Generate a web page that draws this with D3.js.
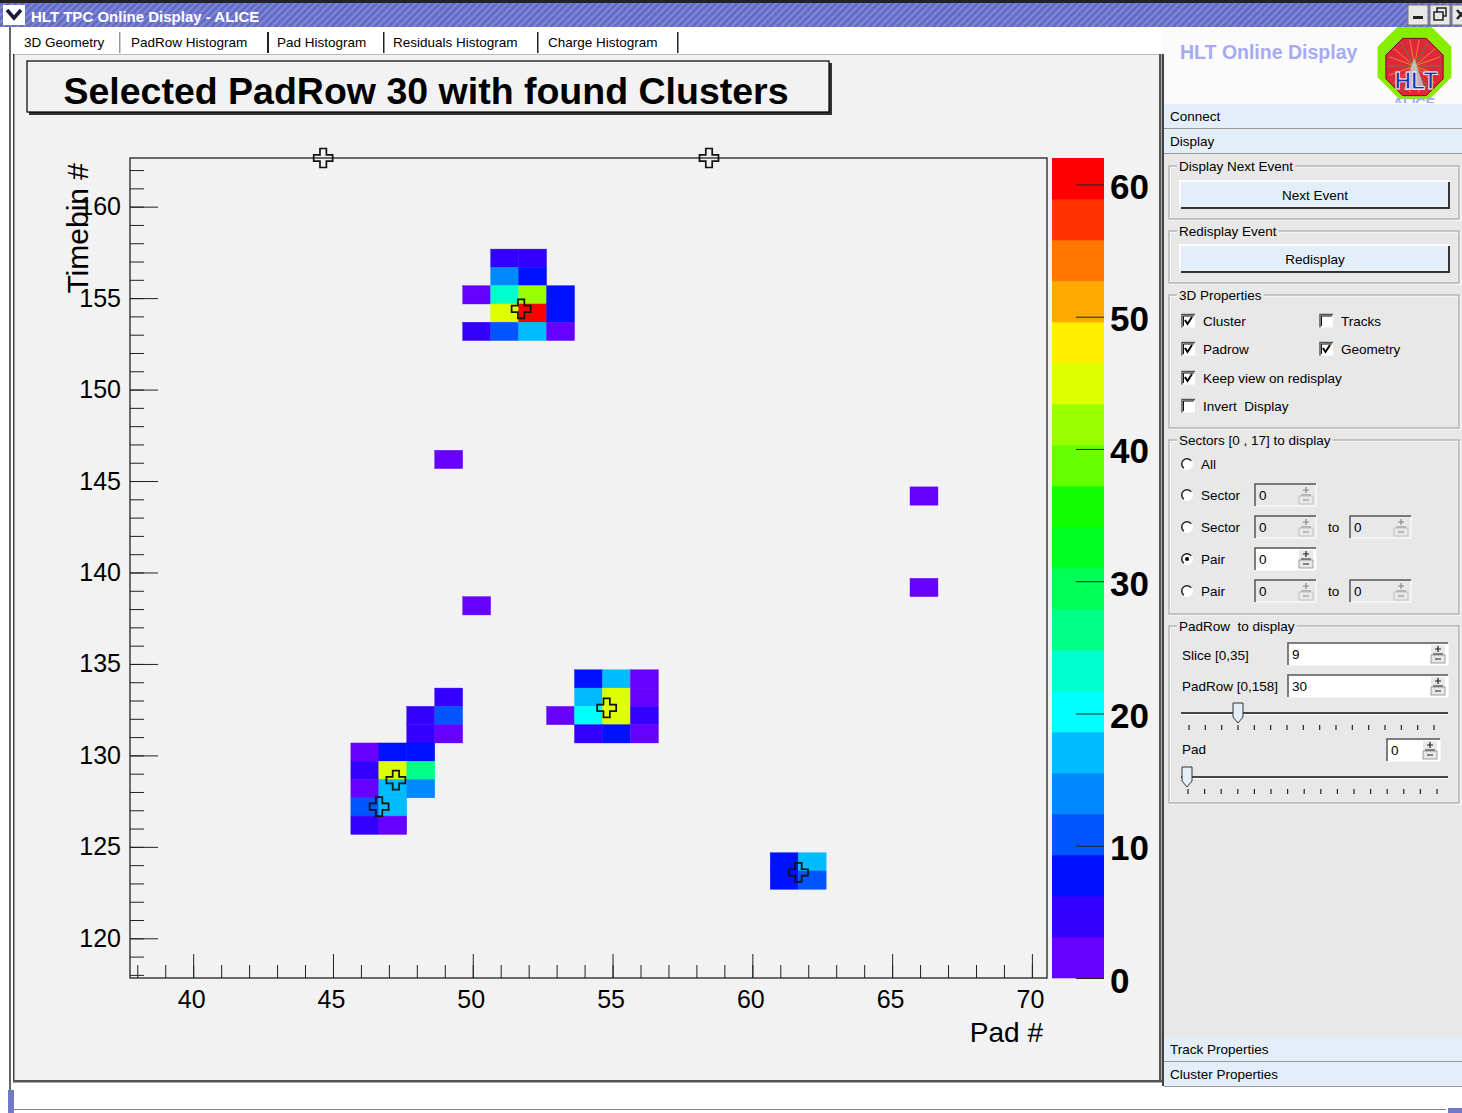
<!DOCTYPE html>
<html lang="en">
<head>
<meta charset="UTF-8">
<title>HLT TPC Online Display - ALICE</title>
<script src="https://d3js.org/d3.v7.min.js"></script>
<style>
  body { margin: 0; background: #fff; }
  svg { display: block; font-family: "Liberation Sans", Arial, sans-serif; }
  .gui { font-size: 13.5px; fill: #000; white-space: pre; }
  .axis path { display: none; }
  .axis line { stroke: #222; }
  .axis text { font-family: "Liberation Sans", Arial, sans-serif; fill: #000; }
</style>
</head>
<body>
<svg width="1462" height="1113"></svg>
<script>
  // ---- data ----
  const tabLabels = ["3D Geometry", "PadRow Histogram", "Pad Histogram", "Residuals Histogram", "Charge Histogram"];
  const padTicks = [40, 45, 50, 55, 60, 65, 70];
  const timeTicks = [120, 125, 130, 135, 140, 145, 150, 155, 160];
  const chargeTicks = [0, 10, 20, 30, 40, 50, 60];
  const palette = ["#6600ff", "#3300ff", "#0011ff", "#0055ff", "#0088ff", "#00bbff", "#00ffff",
                   "#00ffcc", "#00ff88", "#00ff55", "#00ff22", "#11ff00", "#66ff00", "#99ff00",
                   "#ddff00", "#ffee00", "#ffaa00", "#ff7700", "#ff3300", "#ff0000"];

  // [pad, timebin, charge]
  const cells = [
    [51,157,4.5],[52,157,4.5],
    [51,156,14],[52,156,8],
    [50,155,1.5],[51,155,23],[52,155,42],[53,155,8],
    [51,154,45],[52,154,62],[53,154,8],
    [50,153,4.5],[51,153,11],[52,153,17],[53,153,1.5],
    [49,146,1.5],[50,138,1.5],[66,144,1.5],[66,139,1.5],
    [49,133,4.5],
    [48,132,4.5],[49,132,11],
    [48,131,4.5],[49,131,1.5],
    [46,130,1.5],[47,130,8],[48,130,8],
    [46,129,4.5],[47,129,45],[48,129,26],
    [46,128,1.5],[47,128,17],[48,128,14],
    [46,127,11],[47,127,17],
    [46,126,4.5],[47,126,1.5],
    [54,134,8],[55,134,17],[56,134,1.5],
    [54,133,17],[55,133,45],[56,133,1.5],
    [53,132,1.5],[54,132,20],[55,132,45],[56,132,4.5],
    [54,131,4.5],[55,131,8],[56,131,1.5],
    [61,124,8],[62,124,17],
    [61,123,8],[62,123,11]
  ];
  const clusterPad  = [51.73, 47.25, 46.65, 54.79, 61.65, 44.65, 58.45];
  const clusterTime = [154.41, 128.65, 127.2, 132.6, 123.6, 163, 163];

  const padRange = [37.74, 70.54];
  const timeRange = [117.83, 162.66];
  const zMax = d3.max(cells, d => d[2]);

  const svg = d3.select("svg");
  const defs = svg.append("defs");

  // ---- window chrome ----
  const hatch = defs.append("pattern").attr("id", "hatch")
    .attr("width", 5).attr("height", 5).attr("patternUnits", "userSpaceOnUse")
    .attr("patternTransform", "rotate(45)");
  hatch.append("rect").attr("width", 5).attr("height", 5).attr("fill", "#636bc4");
  hatch.append("rect").attr("width", 2).attr("height", 5).attr("fill", "#7f87d8");

  svg.append("rect").attr("x", 0).attr("y", 0).attr("width", 1462).attr("height", 3).attr("fill", "#222");
  svg.append("rect").attr("x", 0).attr("y", 3).attr("width", 1462).attr("height", 24).attr("fill", "url(#hatch)");
  svg.append("rect").attr("x", 3).attr("y", 5).attr("width", 22).attr("height", 20).attr("fill", "#fff");
  svg.append("path").attr("d", "M7,10 L14,18 L21,10").attr("fill", "none").attr("stroke", "#1a1a3a").attr("stroke-width", 3.5);
  svg.append("text").attr("x", 31).attr("y", 22).attr("fill", "#fff")
    .attr("font-weight", "bold").attr("font-size", 15).text("HLT TPC Online Display - ALICE");

  [[1408, "min"], [1430, "max"], [1452, "close"]].forEach(([bx, kind]) => {
    svg.append("rect").attr("x", bx).attr("y", 5).attr("width", 20).attr("height", 20)
      .attr("fill", "#e8e8e8").attr("stroke", "#777");
    if (kind === "min") svg.append("rect").attr("x", bx + 5).attr("y", 16).attr("width", 10).attr("height", 3).attr("fill", "#222");
    if (kind === "max") {
      svg.append("rect").attr("x", bx + 7).attr("y", 8).attr("width", 9).attr("height", 8).attr("fill", "none").attr("stroke", "#222").attr("stroke-width", 1.5);
      svg.append("rect").attr("x", bx + 4).attr("y", 12).attr("width", 9).attr("height", 8).attr("fill", "#e8e8e8").attr("stroke", "#222").attr("stroke-width", 1.5);
    }
    if (kind === "close") svg.append("path").attr("d", `M${bx + 5},10 L${bx + 13},19 M${bx + 13},10 L${bx + 5},19`).attr("stroke", "#222").attr("stroke-width", 2.5);
  });

  // left edge and bottom strip
  svg.append("rect").attr("x", 9).attr("y", 27).attr("width", 2).attr("height", 1086).attr("fill", "#666");
  svg.append("rect").attr("x", 8).attr("y", 1090).attr("width", 6).attr("height", 23).attr("fill", "#7078c8");
  svg.append("rect").attr("x", 14).attr("y", 1109).attr("width", 1432).attr("height", 1).attr("fill", "#888");
  svg.append("rect").attr("x", 1448).attr("y", 1108).attr("width", 14).attr("height", 5).attr("fill", "#7078c8");

  // tabs
  const tabX = [24, 131, 277, 393, 548];
  const sepX = [119, 267, 383, 537, 677];
  tabLabels.forEach((t, i) => {
    svg.append("text").attr("class", "gui").attr("font-size", 14).attr("x", tabX[i]).attr("y", 47).text(t);
    svg.append("rect").attr("x", sepX[i]).attr("y", 32).attr("width", i === 1 ? 2 : 1.5).attr("height", 21)
      .attr("fill", i === 0 ? "#999" : "#222");
  });

  // canvas area
  svg.append("rect").attr("x", 13).attr("y", 54).attr("width", 1148).attr("height", 1028).attr("fill", "#f2f2f2");
  svg.append("rect").attr("x", 13).attr("y", 54).attr("width", 1148).attr("height", 1).attr("fill", "#bbb");
  svg.append("rect").attr("x", 13).attr("y", 54).attr("width", 1.5).attr("height", 1028).attr("fill", "#444");
  svg.append("rect").attr("x", 13).attr("y", 1080).attr("width", 1149).attr("height", 2.5).attr("fill", "#555");
  svg.append("rect").attr("x", 1159).attr("y", 54).attr("width", 2.5).attr("height", 1028).attr("fill", "#555");

  // ---- title box ----
  svg.append("rect").attr("x", 29).attr("y", 63).attr("width", 803).attr("height", 52).attr("fill", "#333");
  svg.append("rect").attr("x", 27).attr("y", 61).attr("width", 802).attr("height", 51)
    .attr("fill", "#f2f2f2").attr("stroke", "#000").attr("stroke-width", 1.2);
  svg.append("text").attr("x", 426).attr("y", 104).attr("text-anchor", "middle")
    .attr("font-weight", "bold").attr("font-size", 37.5).text("Selected PadRow 30 with found Clusters");

  // ---- histogram ----
  const fx0 = 130, fx1 = 1047, fy0 = 158, fy1 = 978;
  const x = d3.scaleLinear().domain(padRange).range([fx0, fx1]);
  const y = d3.scaleLinear().domain(timeRange).range([fy1, fy0]);
  const color = d3.scaleQuantize().domain([0, zMax]).range(palette);
  const X_EDGE = 0.64, Y_EDGE = 0.68;

  const plot = svg.append("g");
  plot.append("rect").attr("x", fx0).attr("y", fy0).attr("width", fx1 - fx0).attr("height", fy1 - fy0)
    .attr("fill", "#f2f2f2");

  plot.selectAll("rect.cell").data(cells).join("rect").attr("class", "cell")
    .attr("x", d => x(d[0] - 1 + X_EDGE))
    .attr("width", d => x(d[0] + X_EDGE) - x(d[0] - 1 + X_EDGE))
    .attr("y", d => y(d[1] + Y_EDGE))
    .attr("height", d => y(d[1] - 1 + Y_EDGE) - y(d[1] + Y_EDGE))
    .attr("fill", d => color(d[2]))
    .attr("stroke", d => color(d[2])).attr("stroke-width", 0.4);

  // axes (ticks pointing into the frame)
  const yAxisMinor = d3.axisLeft(y).tickValues(d3.range(118, 163)).tickSizeInner(-14).tickSizeOuter(0).tickFormat("");
  const yAxis = d3.axisLeft(y).tickValues(timeTicks).tickSizeInner(-28).tickSizeOuter(0).tickPadding(9);
  const xAxisMinor = d3.axisBottom(x).tickValues(d3.range(38, 71)).tickSizeInner(-13).tickSizeOuter(0).tickFormat("");
  const xAxis = d3.axisBottom(x).tickValues(padTicks).tickSizeInner(-24).tickSizeOuter(0).tickPadding(12);

  plot.append("g").attr("class", "axis").attr("transform", `translate(${fx0},0)`).call(yAxisMinor);
  plot.append("g").attr("class", "axis").attr("transform", `translate(${fx0},0)`).call(yAxis)
    .selectAll("text").attr("font-size", 25);
  plot.append("g").attr("class", "axis").attr("transform", `translate(0,${fy1})`).call(xAxisMinor);
  plot.append("g").attr("class", "axis").attr("transform", `translate(0,${fy1})`).call(xAxis)
    .selectAll("text").attr("font-size", 25).attr("dx", -2);

  plot.append("rect").attr("x", fx0).attr("y", fy0).attr("width", fx1 - fx0).attr("height", fy1 - fy0)
    .attr("fill", "none").attr("stroke", "#111").attr("stroke-width", 1.2);

  // cluster markers (open cross)
  const yc = y.copy().clamp(true);
  const crossPath = "M-3.2,-9.5 H3.2 V-3.2 H9.5 V3.2 H3.2 V9.5 H-3.2 V3.2 H-9.5 V-3.2 H-3.2 Z";
  plot.selectAll("path.cluster").data(clusterPad).join("path").attr("class", "cluster")
    .attr("transform", (d, i) => `translate(${x(d)},${yc(clusterTime[i])})`)
    .attr("d", crossPath).attr("fill", "none").attr("stroke", "#111").attr("stroke-width", 1.7);

  plot.append("text").attr("transform", "translate(88,163) rotate(-90)").attr("text-anchor", "end")
    .attr("font-size", 30).text("Timebin #");
  plot.append("text").attr("x", 1043).attr("y", 1042).attr("text-anchor", "end")
    .attr("font-size", 28).text("Pad #");

  // colour bar
  const bx0 = 1052, bx1 = 1104;
  const z = d3.scaleLinear().domain([0, zMax]).range([fy1, fy0]);
  const bands = d3.range(palette.length);
  plot.selectAll("rect.band").data(bands).join("rect").attr("class", "band")
    .attr("x", bx0).attr("width", bx1 - bx0)
    .attr("y", i => z((i + 1) * zMax / palette.length))
    .attr("height", i => z(i * zMax / palette.length) - z((i + 1) * zMax / palette.length) + 0.3)
    .attr("fill", i => palette[i]);
  plot.append("g").attr("class", "axis").attr("transform", `translate(${bx1},0)`)
    .call(d3.axisRight(z).tickValues(chargeTicks).tickSizeInner(-28).tickSizeOuter(0).tickPadding(6))
    .selectAll("text").attr("font-size", 35).attr("font-weight", "bold").attr("dy", "0.4em");

  // ---- right control panel ----
  const px = 1163, pw = 299;
  const panelBg = "#e8e8e8", barBg = "#e4eef8";
  svg.append("rect").attr("x", px).attr("y", 27).attr("width", pw).attr("height", 77).attr("fill", "#fbfbfb");
  svg.append("rect").attr("x", px).attr("y", 104).attr("width", pw).attr("height", 982).attr("fill", panelBg);
  svg.append("rect").attr("x", 1162).attr("y", 54).attr("width", 2).attr("height", 1032).attr("fill", "#444");

  svg.append("text").attr("x", 1180).attr("y", 59).attr("font-weight", "bold").attr("font-size", 19.5)
    .attr("fill", "#a6aaf2").text("HLT Online Display");

  // logo
  const oct = (cx, cy, r) => d3.range(8).map(k => {
    const a = Math.PI / 8 + k * Math.PI / 4;
    return [cx + r * Math.cos(a), cy + r * Math.sin(a)];
  }).join(" ");
  const logo = svg.append("g");
  logo.append("clipPath").attr("id", "logoClip").append("rect").attr("x", 1370).attr("y", 27).attr("width", 90).attr("height", 76);
  const lg = logo.append("g").attr("clip-path", "url(#logoClip)");
  lg.append("polygon").attr("points", oct(1414.5, 62, 40)).attr("fill", "#88ee00");
  lg.append("polygon").attr("points", oct(1414.5, 67, 31)).attr("fill", "#e0283c").attr("stroke", "#7a1020");
  d3.range(18).forEach(k => {
    const a = k * Math.PI / 9;
    lg.append("line").attr("x1", 1414.5).attr("y1", 66).attr("x2", 1414.5 + 27 * Math.cos(a)).attr("y2", 66 + 27 * Math.sin(a))
      .attr("stroke", k % 3 ? "#f0a020" : "#30a040").attr("stroke-width", 1).attr("opacity", 0.8);
  });
  lg.append("path").attr("d", "M1404,90 L1414,58 L1425,90 Z").attr("fill", "#c0d0e0").attr("opacity", 0.8);
  lg.append("text").attr("x", 1416).attr("y", 89).attr("text-anchor", "middle").attr("font-weight", "bold")
    .attr("font-size", 23).attr("fill", "#1830b0").attr("stroke", "#fff").attr("stroke-width", 0.8).text("HLT");
  lg.append("text").attr("x", 1414).attr("y", 108).attr("text-anchor", "middle").attr("font-weight", "bold")
    .attr("font-size", 14).attr("fill", "#a6aaf2").text("ALICE");

  function bar(yTop, label) {
    svg.append("rect").attr("x", px + 1).attr("y", yTop).attr("width", pw - 1).attr("height", 24).attr("fill", barBg);
    svg.append("rect").attr("x", px + 1).attr("y", yTop + 24).attr("width", pw - 1).attr("height", 1).attr("fill", "#999");
    svg.append("text").attr("class", "gui").attr("font-size", 14).attr("x", 1170).attr("y", yTop + 17).text(label);
  }
  bar(104, "Connect");
  bar(129, "Display");
  bar(1037, "Track Properties");
  bar(1062, "Cluster Properties");

  function group(y0, y1, label) {
    svg.append("rect").attr("x", 1170).attr("y", y0 + 1).attr("width", 290).attr("height", y1 - y0)
      .attr("fill", "none").attr("stroke", "#fff");
    svg.append("rect").attr("x", 1169).attr("y", y0).attr("width", 290).attr("height", y1 - y0)
      .attr("fill", "none").attr("stroke", "#999");
    const t = svg.append("text").attr("class", "gui").attr("x", 1179).attr("y", y0 + 5).text(label);
    const w = t.node().getComputedTextLength();
    svg.insert("rect", () => t.node()).attr("x", 1177).attr("y", y0 - 3).attr("width", w + 4).attr("height", 6).attr("fill", panelBg);
  }
  function button(y0, label) {
    svg.append("rect").attr("x", 1180).attr("y", y0).attr("width", 270).attr("height", 27).attr("fill", barBg);
    svg.append("path").attr("d", `M1180,${y0 + 27} V${y0} H1450`).attr("fill", "none").attr("stroke", "#fff").attr("stroke-width", 1.5);
    svg.append("path").attr("d", `M1181,${y0 + 27} H1449 V${y0 + 1}`).attr("fill", "none").attr("stroke", "#333").attr("stroke-width", 2);
    svg.append("text").attr("class", "gui").attr("x", 1315).attr("y", y0 + 19).attr("text-anchor", "middle").text(label);
  }
  function checkbox(cx, cy, label, checked) {
    svg.append("rect").attr("x", cx).attr("y", cy - 6.5).attr("width", 13).attr("height", 13).attr("fill", "#fff");
    svg.append("path").attr("d", `M${cx},${cy + 6.5} V${cy - 6.5} H${cx + 13}`).attr("fill", "none").attr("stroke", "#555").attr("stroke-width", 1.5);
    svg.append("path").attr("d", `M${cx + 1.5},${cy + 5} V${cy - 5} H${cx + 12}`).attr("fill", "none").attr("stroke", "#111").attr("stroke-width", 1);
    if (checked) svg.append("path").attr("d", `M${cx + 3},${cy - 1} L${cx + 5.5},${cy + 3} L${cx + 10},${cy - 4}`)
      .attr("fill", "none").attr("stroke", "#000").attr("stroke-width", 2);
    svg.append("text").attr("class", "gui").attr("x", cx + 21).attr("y", cy + 5).text(label);
  }
  function radio(cx, cy, label, selected) {
    svg.append("circle").attr("cx", cx + 6).attr("cy", cy).attr("r", 6).attr("fill", "#fff");
    svg.append("path").attr("d", d3.arc()({ innerRadius: 4.5, outerRadius: 6, startAngle: Math.PI * 1.2, endAngle: Math.PI * 2.3 }))
      .attr("transform", `translate(${cx + 6},${cy})`).attr("fill", "#222");
    if (selected) svg.append("circle").attr("cx", cx + 6).attr("cy", cy).attr("r", 2).attr("fill", "#000");
    svg.append("text").attr("class", "gui").attr("x", cx + 20).attr("y", cy + 5).text(label);
  }
  function entry(x0, cy, w, label, enabled) {
    const h = 22, y0 = cy - 11;
    svg.append("rect").attr("x", x0).attr("y", y0).attr("width", w).attr("height", h).attr("fill", enabled ? "#fff" : panelBg);
    svg.append("path").attr("d", `M${x0},${y0 + h} V${y0} H${x0 + w}`).attr("fill", "none").attr("stroke", "#555").attr("stroke-width", 1.5);
    svg.append("path").attr("d", `M${x0 + 1},${y0 + h} H${x0 + w} V${y0 + 1}`).attr("fill", "none").attr("stroke", "#fff").attr("stroke-width", 1);
    svg.append("text").attr("class", "gui").attr("x", x0 + 4).attr("y", cy + 5).attr("font-size", 13)
      .attr("fill", enabled ? "#000" : "#999").text(label);
    const sx = x0 + w - 17;
    svg.append("rect").attr("x", sx).attr("y", y0 + 2).attr("width", 14).attr("height", h - 4).attr("fill", panelBg);
    svg.append("line").attr("x1", sx + 2).attr("x2", sx + 12).attr("y1", cy).attr("y2", cy).attr("stroke", enabled ? "#222" : "#888");
    const c = enabled ? "#222" : "#888";
    svg.append("path").attr("d", `M${sx + 4},${cy - 5} H${sx + 10} M${sx + 7},${cy - 8} V${cy - 2} M${sx + 4},${cy + 5} H${sx + 10}`)
      .attr("stroke", c).attr("stroke-width", 1.2);
    svg.append("rect").attr("x", sx).attr("y", cy + 1).attr("width", 14).attr("height", 8).attr("fill", "none").attr("stroke", enabled ? "#666" : "#aaa").attr("stroke-width", 0.6);
  }
  function slider(cy, thumbX, n, x0, x1) {
    svg.append("line").attr("x1", 1181).attr("x2", 1448).attr("y1", cy).attr("y2", cy).attr("stroke", "#111").attr("stroke-width", 1.3);
    svg.append("line").attr("x1", 1181).attr("x2", 1448).attr("y1", cy + 1.5).attr("y2", cy + 1.5).attr("stroke", "#fff");
    d3.range(n).forEach(k => {
      const tx = x0 + k * (x1 - x0) / (n - 1);
      svg.append("line").attr("x1", tx).attr("x2", tx).attr("y1", cy + 12).attr("y2", cy + 17).attr("stroke", "#222").attr("stroke-width", 1.2);
    });
    svg.append("path").attr("d", `M${thumbX - 5},${cy - 10} H${thumbX + 5} V${cy + 4} L${thumbX},${cy + 10} L${thumbX - 5},${cy + 4} Z`)
      .attr("fill", barBg).attr("stroke", "#333").attr("stroke-width", 1);
  }

  group(166, 219, "Display Next Event");
  button(181, "Next Event");
  group(231, 283, "Redisplay Event");
  button(245, "Redisplay");

  group(295, 428, "3D Properties");
  checkbox(1182, 321, "Cluster", true);
  checkbox(1320, 321, "Tracks", false);
  checkbox(1182, 349, "Padrow", true);
  checkbox(1320, 349, "Geometry", true);
  checkbox(1182, 378, "Keep view on redisplay", true);
  checkbox(1182, 406, "Invert  Display", false);

  group(440, 614, "Sectors [0 , 17] to display");
  radio(1181, 464, "All", false);
  radio(1181, 495, "Sector", false);
  entry(1255, 495, 61, "0", false);
  radio(1181, 527, "Sector", false);
  entry(1255, 527, 61, "0", false);
  svg.append("text").attr("class", "gui").attr("x", 1328).attr("y", 532).attr("fill", "#999").attr("font-size", 12.5).text("to");
  entry(1350, 527, 61, "0", false);
  radio(1181, 559, "Pair", true);
  entry(1255, 559, 61, "0", true);
  radio(1181, 591, "Pair", false);
  entry(1255, 591, 61, "0", false);
  svg.append("text").attr("class", "gui").attr("x", 1328).attr("y", 596).attr("fill", "#999").attr("font-size", 12.5).text("to");
  entry(1350, 591, 61, "0", false);

  group(626, 803, "PadRow  to display");
  svg.append("text").attr("class", "gui").attr("x", 1182).attr("y", 660).text("Slice [0,35]");
  entry(1288, 654, 160, "9", true);
  svg.append("text").attr("class", "gui").attr("x", 1182).attr("y", 691).text("PadRow [0,158]");
  entry(1288, 686, 160, "30", true);
  slider(713, 1238, 16, 1189, 1434);
  svg.append("text").attr("class", "gui").attr("x", 1182).attr("y", 754).text("Pad");
  entry(1387, 750, 53, "0", true);
  slider(777, 1187, 16, 1188, 1437);
</script>
</body>
</html>
